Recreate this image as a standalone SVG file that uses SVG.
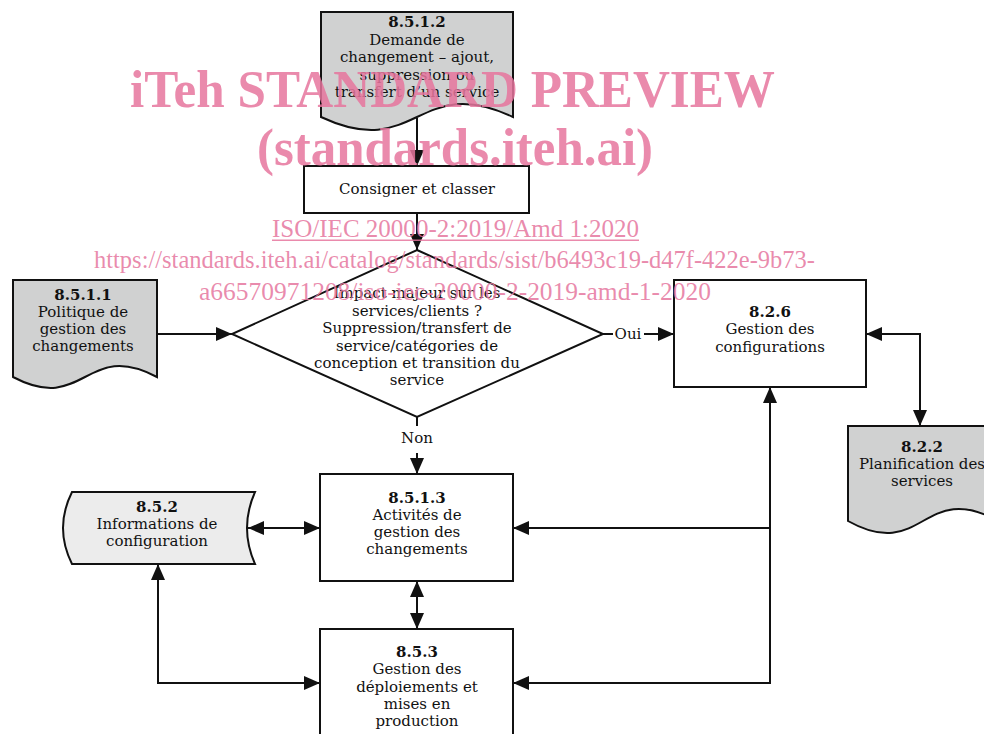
<svg xmlns="http://www.w3.org/2000/svg" width="984" height="734" viewBox="0 0 984 734">
<style>
.box{fill:#fff;stroke:#111;stroke-width:2}
.doc{fill:#d0d1d1;stroke:#111;stroke-width:2}
.store{fill:#ececec;stroke:#111;stroke-width:2}
.t{font-family:"DejaVu Serif","Liberation Serif",serif;font-size:15px;fill:#111;text-anchor:middle}
.b{font-weight:bold}
.c{fill:none;stroke:#111;stroke-width:2}
.wm{font-family:"Liberation Serif",serif;fill:#e6769e;fill-opacity:0.85}
</style>
<defs>
<marker id="arr" viewBox="0 0 16 14" refX="16" refY="7" markerWidth="16" markerHeight="14" markerUnits="userSpaceOnUse" orient="auto-start-reverse">
<path d="M0,0 L16,7 L0,14 z" fill="#111"/>
</marker>
</defs>
<g id="connectors">
<path class="c" d="M417,118 V166" marker-end="url(#arr)"/>
<path class="c" d="M417,213 V250" marker-end="url(#arr)"/>
<path class="c" d="M157,334 H232" marker-end="url(#arr)"/>
<path class="c" d="M603,334 H613"/>
<text class="t" x="628" y="339">Oui</text>
<path class="c" d="M644,334 H674" marker-end="url(#arr)"/>
<path class="c" d="M417,417 V426"/>
<text class="t" x="417" y="443">Non</text>
<path class="c" d="M417,453 V474" marker-end="url(#arr)"/>
<path class="c" d="M866,334 H920 V426" marker-start="url(#arr)" marker-end="url(#arr)"/>
<path class="c" d="M248,528 H320" marker-start="url(#arr)" marker-end="url(#arr)"/>
<path class="c" d="M417,581 V629" marker-start="url(#arr)" marker-end="url(#arr)"/>
<path class="c" d="M158,564 V683 H320" marker-start="url(#arr)" marker-end="url(#arr)"/>
<path class="c" d="M513,683 H770 V387" marker-start="url(#arr)" marker-end="url(#arr)"/>
<path class="c" d="M770,528 H513" marker-end="url(#arr)"/>
</g>
<g id="n8512">
<path class="doc" d="M321,12 H513 V117 C417,72 417,162 321,117 Z"/>
<text class="t b" x="417" y="27">8.5.1.2</text>
<text class="t" x="417" y="45">Demande de</text>
<text class="t" x="417" y="62">changement – ajout,</text>
<text class="t" x="417" y="80">suppression ou</text>
<text class="t" x="417" y="97">transfert d’un service</text>
</g>
<g id="consigner">
<rect class="box" x="304" y="166" width="225" height="47"/>
<text class="t" x="417" y="194">Consigner et classer</text>
</g>
<g id="decision">
<path class="box" d="M417,250 L603,334 L417,417 L232,334 Z"/>
<text class="t" x="417" y="298">Impact majeur sur les</text>
<text class="t" x="417" y="316">services/clients ?</text>
<text class="t" x="417" y="333">Suppression/transfert de</text>
<text class="t" x="417" y="351">service/catégories de</text>
<text class="t" x="417" y="368">conception et transition du</text>
<text class="t" x="417" y="385">service</text>
</g>
<g id="n8511">
<path class="doc" d="M13,280 H157 V377 C85,339 85,415 13,377 Z"/>
<text class="t b" x="83" y="300">8.5.1.1</text>
<text class="t" x="83" y="317">Politique de</text>
<text class="t" x="83" y="334">gestion des</text>
<text class="t" x="83" y="351">changements</text>
</g>
<g id="n826">
<rect class="box" x="674" y="280" width="192" height="107"/>
<text class="t b" x="770" y="317">8.2.6</text>
<text class="t" x="770" y="334">Gestion des</text>
<text class="t" x="770" y="352">configurations</text>
</g>
<g id="n822">
<path class="doc" d="M848,426 H998 V521 C923,479 923,563 848,521 Z"/>
<text class="t b" x="922" y="452">8.2.2</text>
<text class="t" x="922" y="469">Planification des</text>
<text class="t" x="922" y="486">services</text>
</g>
<g id="n8513">
<rect class="box" x="320" y="474" width="193" height="107"/>
<text class="t b" x="417" y="503">8.5.1.3</text>
<text class="t" x="417" y="520">Activités de</text>
<text class="t" x="417" y="537">gestion des</text>
<text class="t" x="417" y="554">changements</text>
</g>
<g id="n852">
<path class="store" d="M72,492 H255 Q239,528 255,564 H72 Q54,528 72,492 Z"/>
<text class="t b" x="157" y="512">8.5.2</text>
<text class="t" x="157" y="529">Informations de</text>
<text class="t" x="157" y="546">configuration</text>
</g>
<g id="n853">
<rect class="box" x="320" y="629" width="193" height="120"/>
<text class="t b" x="417" y="657">8.5.3</text>
<text class="t" x="417" y="674">Gestion des</text>
<text class="t" x="417" y="692">déploiements et</text>
<text class="t" x="417" y="709">mises en</text>
<text class="t" x="417" y="726">production</text>
</g>
<g id="watermark">
<text class="wm" x="130" y="107" font-size="52" font-weight="bold" textLength="645" lengthAdjust="spacingAndGlyphs">iTeh STANDARD PREVIEW</text>
<text class="wm" x="257" y="165" font-size="52" font-weight="bold" textLength="396" lengthAdjust="spacingAndGlyphs">(standards.iteh.ai)</text>
<text class="wm" x="272" y="237" font-size="26" textLength="367" lengthAdjust="spacingAndGlyphs">ISO/IEC 20000-2:2019/Amd 1:2020</text>
<rect x="272" y="239.5" width="367" height="1.5" fill="#e6769e" fill-opacity="0.85"/>
<text class="wm" x="94" y="268" font-size="26" textLength="721" lengthAdjust="spacingAndGlyphs">https://standards.iteh.ai/catalog/standards/sist/b6493c19-d47f-422e-9b73-</text>
<text class="wm" x="199" y="300" font-size="26" textLength="512" lengthAdjust="spacingAndGlyphs">a66570971208/iso-iec-20000-2-2019-amd-1-2020</text>
</g>
</svg>
